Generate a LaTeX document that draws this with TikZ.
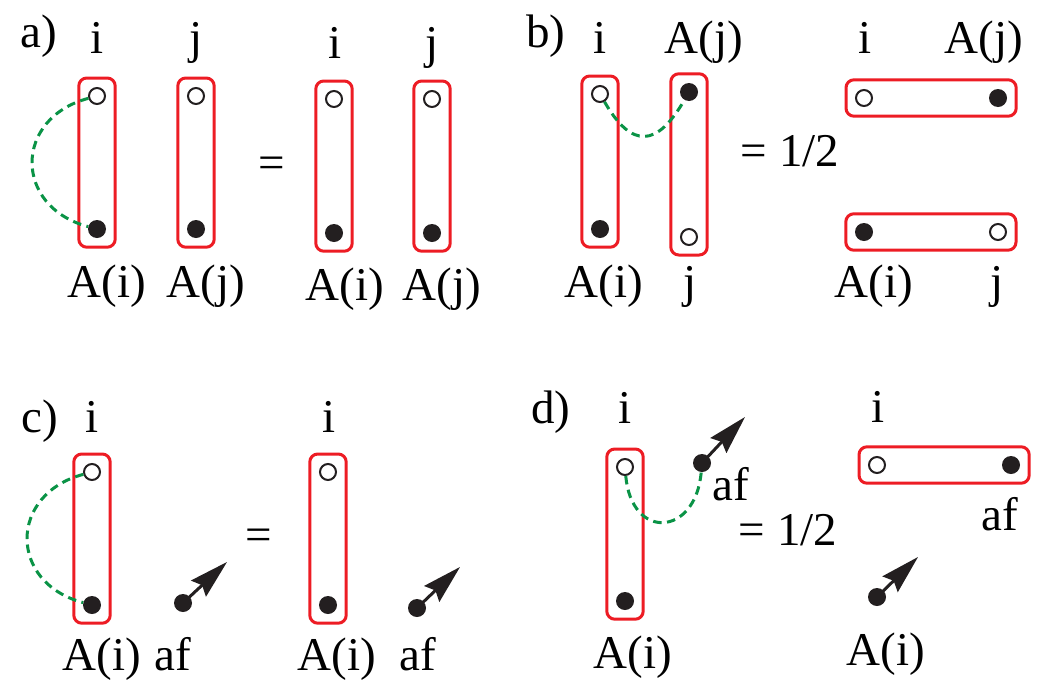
\documentclass[tikz,border=0pt]{standalone}
\usepackage{fontspec}
\setmainfont{Liberation Serif}
\usetikzlibrary{arrows.meta,fit}
\definecolor{frame}{HTML}{ED1C24}
\definecolor{bond}{HTML}{0A9346}
\definecolor{ink}{HTML}{231F20}
\newcommand{\lbl}{\fontsize{47}{50}\selectfont}
\begin{document}
\begin{tikzpicture}[x=1pt,y=-1pt,font=\lbl,
  hole/.style={circle,draw=ink,line width=2pt,fill=white,minimum size=16pt,inner sep=0},
  spot/.style={circle,fill=ink,minimum size=18pt,inner sep=0},
  pairbox/.style={draw=frame,line width=3pt,rounded corners=8pt,inner sep=9pt},
  link/.style={bond,line width=3pt,dash pattern=on 8.5pt off 5.5pt},
  kick/.style={ink,line width=3pt,-{Stealth[length=39pt,width=22pt,inset=5pt,line width=1.5pt]}},
  txt/.style={anchor=base,inner sep=0}]
\useasboundingbox (0,0) rectangle (1039,683);
\node[txt] (a-tag) at (39,47) {a)};
\node[hole] (a1o) at (97,96) {};
\node[spot] (a1f) at (97,229) {};
\node[hole] (a2o) at (196,96) {};
\node[spot] (a2f) at (196,229) {};
\node[pairbox,fit=(a1o)(a1f)] (a1box) {};
\node[pairbox,fit=(a2o)(a2f)] (a2box) {};
\draw[link] (a1o) to[out=195,in=165,looseness=1.55] (a1f);
\node[txt] (a-i) at (97,53) {i};
\node[txt] (a-j) at (196,53) {j};
\node[txt] (a-Ai) at (107,297) {A(i)};
\node[txt] (a-Aj) at (206,297) {A(j)};
\node[txt] (a-eq) at (272,178) {=};
\node[hole] (a3o) at (334,99) {};
\node[spot] (a3f) at (334,233) {};
\node[hole] (a4o) at (432,99) {};
\node[spot] (a4f) at (432,233) {};
\node[pairbox,fit=(a3o)(a3f)] (a3box) {};
\node[pairbox,fit=(a4o)(a4f)] (a4box) {};
\node[txt] (a-i2) at (335,58) {i};
\node[txt] (a-j2) at (432,58) {j};
\node[txt] (a-Ai2) at (345,300) {A(i)};
\node[txt] (a-Aj2) at (442,300) {A(j)};
\node[txt] (b-tag) at (546,47) {b)};
\node[hole] (b1o) at (600,94) {};
\node[spot] (b1f) at (600,229) {};
\node[spot] (b2f) at (689,92) {};
\node[hole] (b2o) at (689,237) {};
\node[pairbox,fit=(b1o)(b1f)] (b1box) {};
\node[pairbox,fit=(b2f)(b2o)] (b2box) {};
\draw[link] (b1o) to[out=-60,in=-120,looseness=1.75] (b2f);
\node[txt] (b-i) at (600,53) {i};
\node[txt] (b-Aj) at (704,53) {A(j)};
\node[txt] (b-Ai) at (604,297) {A(i)};
\node[txt] (b-j) at (690,297) {j};
\node[txt] (b-half) at (790,166) {= 1/2};
\node[hole] (b3o) at (864,98) {};
\node[spot] (b3f) at (998,98) {};
\node[spot] (b4f) at (864,232) {};
\node[hole] (b4o) at (998,232) {};
\node[pairbox,fit=(b3o)(b3f)] (b3box) {};
\node[pairbox,fit=(b4f)(b4o)] (b4box) {};
\node[txt] (b-i2) at (865,53) {i};
\node[txt] (b-Aj2) at (984,53) {A(j)};
\node[txt] (b-Ai2) at (874,297) {A(i)};
\node[txt] (b-j2) at (997,297) {j};
\node[txt] (c-tag) at (40,432) {c)};
\node[hole] (c1o) at (92,472) {};
\node[spot] (c1f) at (92,605) {};
\node[pairbox,fit=(c1o)(c1f)] (c1box) {};
\draw[link] (c1o) to[out=195,in=165,looseness=1.55] (c1f);
\node[spot] (c1af) at (183,603) {};
\coordinate (c1tip) at (227,562);
\draw[kick] (c1af.center) -- (c1tip);
\node[txt] (c-i) at (92,432) {i};
\node[txt] (c-Ai) at (102,670) {A(i)};
\node[txt] (c-af) at (173,670) {af};
\node[txt] (c-eq) at (259,550) {=};
\node[hole] (c2o) at (328,472) {};
\node[spot] (c2f) at (328,605) {};
\node[pairbox,fit=(c2o)(c2f)] (c2box) {};
\node[spot] (c2af) at (417,608) {};
\coordinate (c2tip) at (460,567);
\draw[kick] (c2af.center) -- (c2tip);
\node[txt] (c-i2) at (329,432) {i};
\node[txt] (c-Ai2) at (337,670) {A(i)};
\node[txt] (c-af2) at (418,670) {af};
\node[txt] (d-tag) at (551,423) {d)};
\node[hole] (d1o) at (625,467) {};
\node[spot] (d1f) at (625,601) {};
\node[pairbox,fit=(d1o)(d1f)] (d1box) {};
\node[spot] (d1af) at (702,463) {};
\coordinate (d1tip) at (745,417);
\draw[kick] (d1af.center) -- (d1tip);
\draw[link] (d1o) to[out=-85,in=-95,looseness=2.2] (d1af);
\node[txt] (d-i) at (625,423) {i};
\node[txt] (d-af) at (731,500) {af};
\node[txt] (d-Ai) at (633,668) {A(i)};
\node[txt] (d-half) at (788,545) {= 1/2};
\node[hole] (d2o) at (877,465) {};
\node[spot] (d2f) at (1011,465) {};
\node[pairbox,fit=(d2o)(d2f)] (d2box) {};
\node[spot] (d2af) at (877,597) {};
\coordinate (d2tip) at (918,557);
\draw[kick] (d2af.center) -- (d2tip);
\node[txt] (d-i2) at (878,422) {i};
\node[txt] (d-af2) at (1000,530) {af};
\node[txt] (d-Ai2) at (886,665) {A(i)};
\end{tikzpicture}
\end{document}
